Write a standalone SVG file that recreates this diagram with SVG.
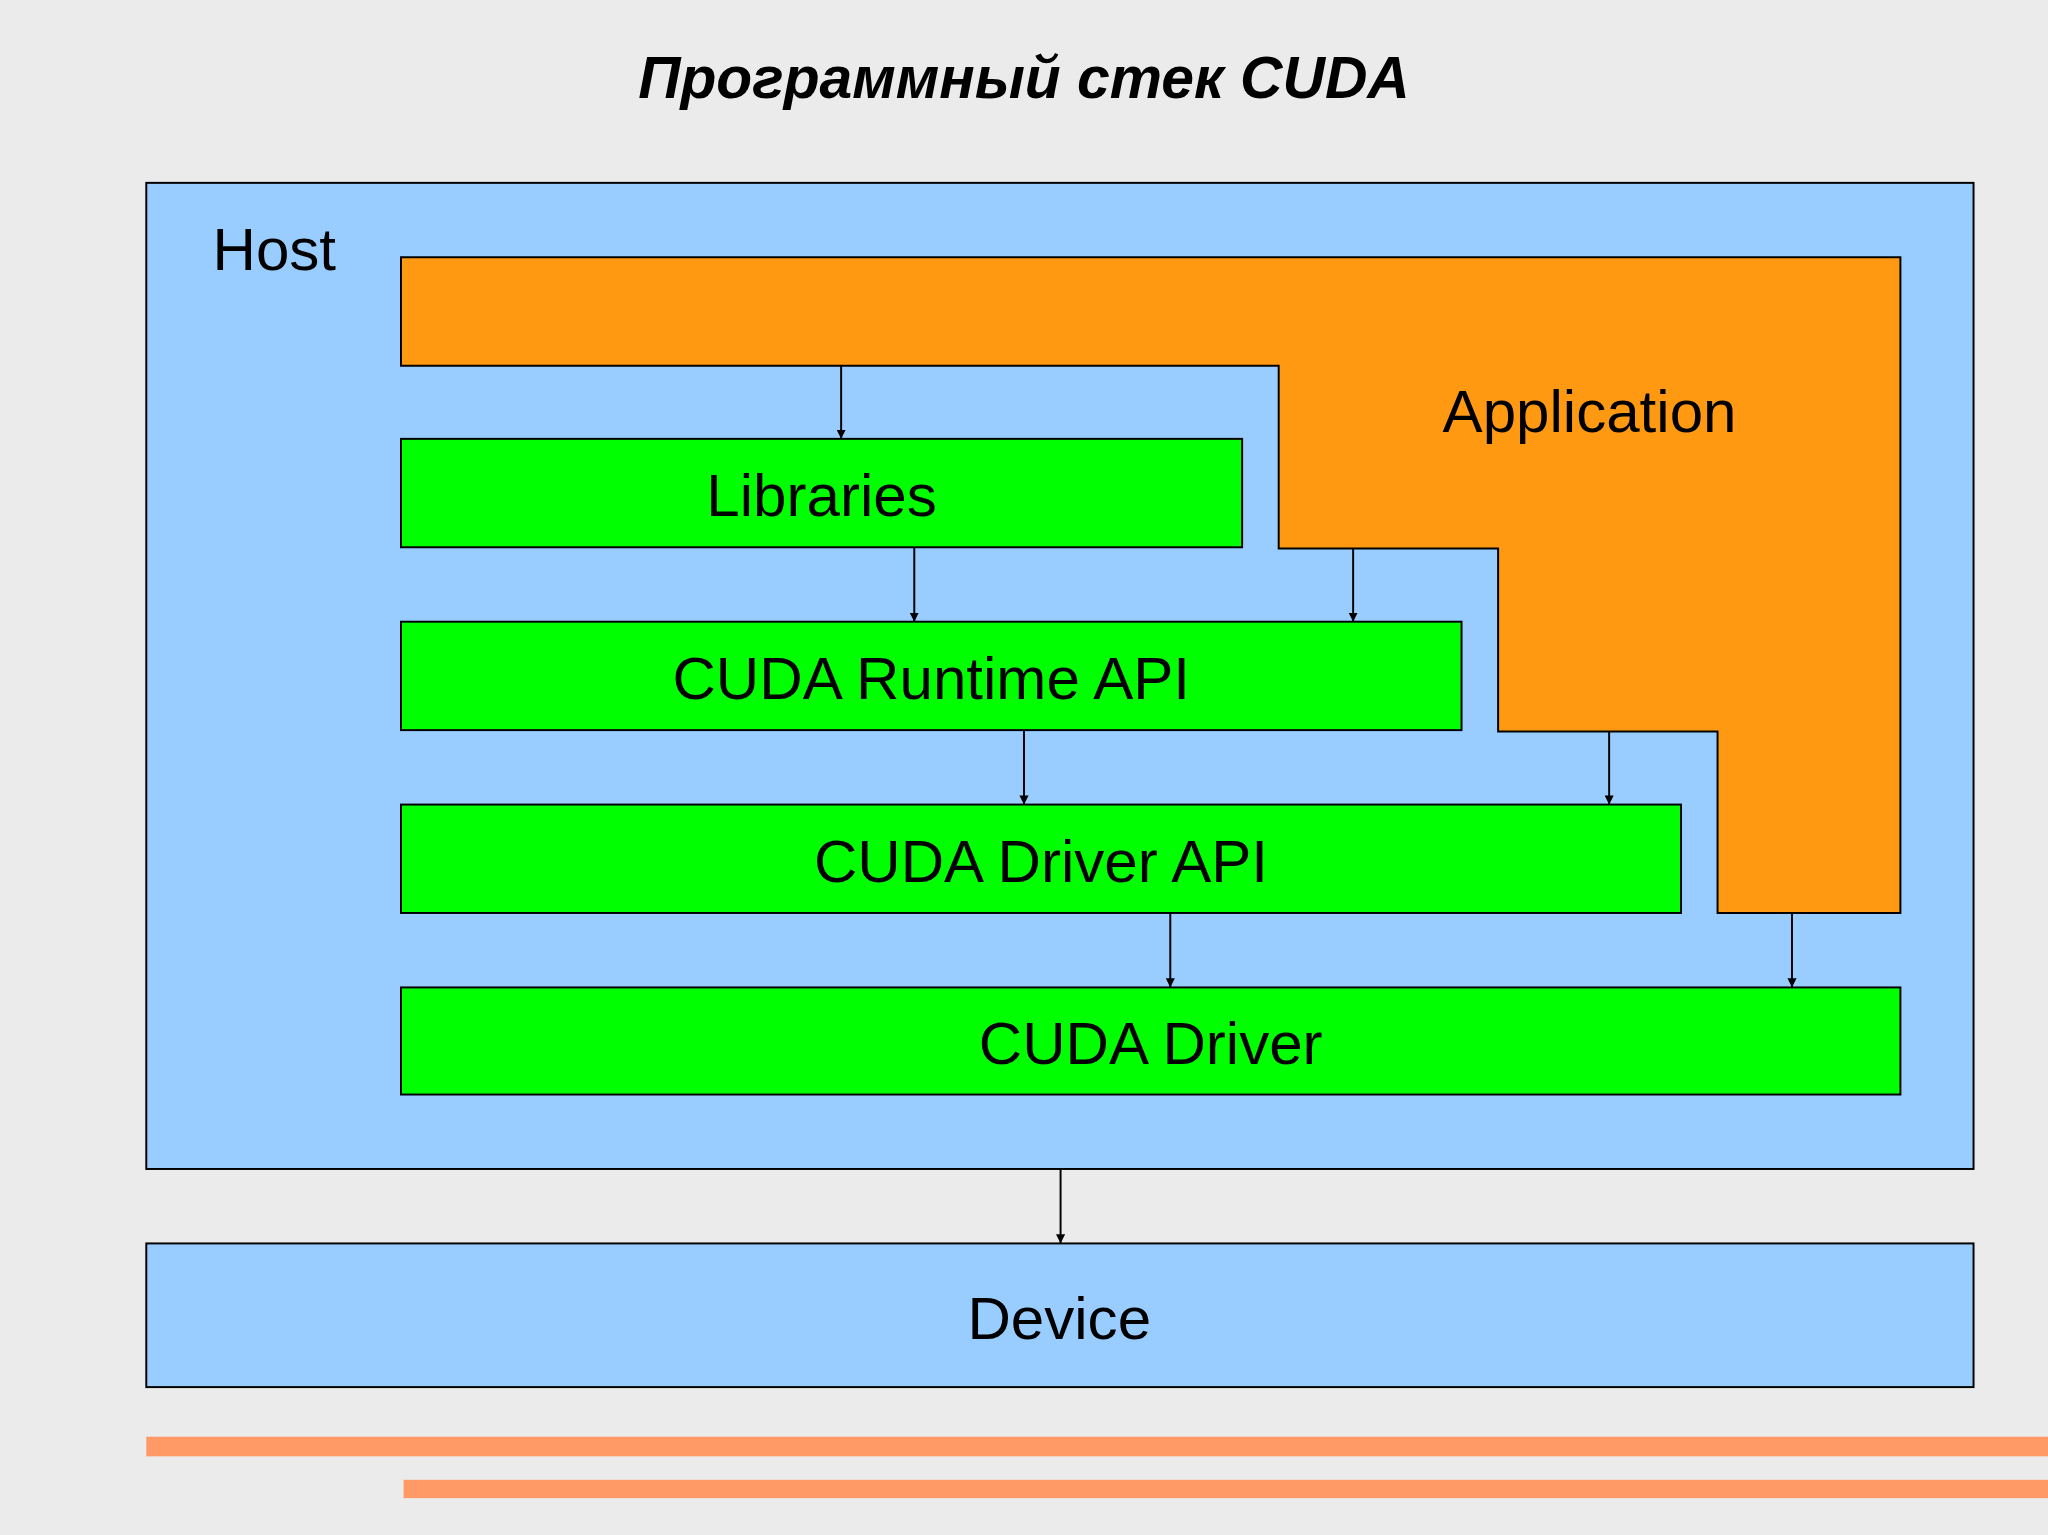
<svg xmlns="http://www.w3.org/2000/svg" width="2048" height="1535" viewBox="0 0 2048 1535">
<style>
.box{stroke:#000;stroke-width:1.5}
.g{fill:#00ff00}
.b{fill:#99ccff}
.t{font-family:"Liberation Sans",Arial,sans-serif;font-size:46px;fill:#000;text-anchor:middle}
.c{stroke:#000;stroke-width:1.5;fill:none;marker-end:url(#ah)}
</style>
<defs>
<marker id="ah" viewBox="0 0 10 10" refX="10" refY="5" markerWidth="7" markerHeight="7" orient="auto" markerUnits="userSpaceOnUse"><path d="M0,0 L10,5 L0,10 z" fill="#000"/></marker>
</defs>
<rect width="2048" height="1535" fill="#ebebeb"/>
<g transform="scale(1.30612)">
<text x="784" y="75" style="font-family:'Liberation Sans',Arial,sans-serif;font-size:45px;font-weight:bold;font-style:italic;text-anchor:middle">Программный стек CUDA</text>
<g id="host"><rect class="box b" x="112" y="140" width="1399" height="755"/><text x="210" y="207" class="t">Host</text></g>
<g id="application"><polygon class="box" fill="#ff9912" points="307,197 1455,197 1455,699 1315,699 1315,560 1147,560 1147,420 979,420 979,280 307,280"/><text x="1217" y="331" class="t">Application</text></g>
<g id="libraries"><rect class="box g" x="307" y="336" width="644" height="83"/><text x="629" y="395" class="t">Libraries</text></g>
<g id="runtime"><rect class="box g" x="307" y="476" width="812" height="83"/><text x="713" y="535" class="t">CUDA Runtime API</text></g>
<g id="driverapi"><rect class="box g" x="307" y="616" width="980" height="83"/><text x="797" y="675" class="t">CUDA Driver API</text></g>
<g id="driver"><rect class="box g" x="307" y="756" width="1148" height="82"/><text x="881" y="815" class="t">CUDA Driver</text></g>
<g id="device"><rect class="box b" x="112" y="952" width="1399" height="110"/><text x="811" y="1025" class="t">Device</text></g>
<g id="connectors">
<line class="c" x1="644" y1="280" x2="644" y2="336"/>
<line class="c" x1="700" y1="419" x2="700" y2="476"/>
<line class="c" x1="1036" y1="420" x2="1036" y2="476"/>
<line class="c" x1="784" y1="559" x2="784" y2="616"/>
<line class="c" x1="1232" y1="560" x2="1232" y2="616"/>
<line class="c" x1="896" y1="699" x2="896" y2="756"/>
<line class="c" x1="1372" y1="699" x2="1372" y2="756"/>
<line class="c" x1="812" y1="895" x2="812" y2="952"/>
</g>
<rect x="112" y="1100" width="1460" height="15" fill="#ff9966"/>
<rect x="309" y="1133" width="1263" height="14" fill="#ff9966"/>
</g>
</svg>
